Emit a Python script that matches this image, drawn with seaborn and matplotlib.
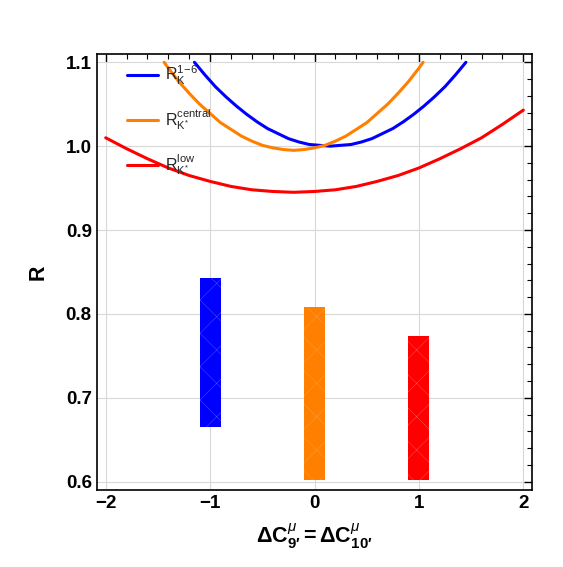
import matplotlib
matplotlib.use("Agg")
import matplotlib.pyplot as plt
from matplotlib.ticker import MultipleLocator
import pandas as pd
import seaborn as sns

# curves
x_blue = [-1.15, -1.05, -0.95, -0.85, -0.75, -0.65, -0.55, -0.45, -0.35, -0.25, -0.15,
          -0.05, 0.05, 0.15, 0.25, 0.35, 0.45, 0.55, 0.65, 0.75, 0.85, 0.95, 1.05,
          1.15, 1.25, 1.35, 1.45]
r_blue = [1.100, 1.085, 1.071, 1.059, 1.048, 1.038, 1.029, 1.021, 1.015, 1.009, 1.005,
          1.002, 1.001, 1.000, 1.001, 1.002, 1.005, 1.009, 1.015, 1.021, 1.029, 1.038,
          1.048, 1.059, 1.071, 1.085, 1.100]

x_orange = [-1.44, -1.4, -1.3, -1.2, -1.1, -1.0, -0.9, -0.8, -0.7, -0.6, -0.5, -0.4,
            -0.3, -0.2, -0.1, 0.0, 0.1, 0.2, 0.3, 0.4, 0.5, 0.6, 0.7, 0.8, 0.9, 1.0, 1.04]
r_orange = [1.100, 1.093, 1.077, 1.063, 1.050, 1.039, 1.028, 1.020, 1.012, 1.006, 1.001,
            0.998, 0.996, 0.995, 0.996, 0.998, 1.001, 1.006, 1.012, 1.020, 1.028, 1.039,
            1.050, 1.063, 1.077, 1.093, 1.100]

x_red = [-2.0, -1.8, -1.6, -1.4, -1.2, -1.0, -0.8, -0.6, -0.4, -0.2, 0.0, 0.2, 0.4,
         0.6, 0.8, 1.0, 1.2, 1.4, 1.6, 1.8, 2.0]
r_red = [1.010, 0.997, 0.985, 0.974, 0.965, 0.958, 0.952, 0.948, 0.946, 0.945, 0.946,
         0.948, 0.952, 0.958, 0.965, 0.974, 0.985, 0.997, 1.010, 1.026, 1.043]

# measured bands
band_x = [-1.0, 0.0, 1.0]
band_low = [0.665, 0.602, 0.602]
band_high = [0.843, 0.808, 0.774]

labels = [r"$\mathrm{R}_{\mathrm{K}}^{1\!-\!6}$",
          r"$\mathrm{R}_{\mathrm{K}^{*}}^{\mathrm{central}}$",
          r"$\mathrm{R}_{\mathrm{K}^{*}}^{\mathrm{low}}$"]
colors = ["#0000ff", "#ff8000", "#ff0000"]

sns.set_theme(style="whitegrid")
plt.rcParams['font.family'] = ['Liberation Sans', 'DejaVu Sans']
plt.rcParams['mathtext.fontset'] = 'custom'
plt.rcParams['mathtext.rm'] = 'Liberation Sans'
plt.rcParams['mathtext.it'] = 'Liberation Sans:italic'
plt.rcParams['mathtext.bf'] = 'Liberation Sans:bold'
plt.rcParams['hatch.linewidth'] = 0.3

fig = plt.figure(figsize=(5.63, 5.67), dpi=100)
ax = fig.add_axes([0.1718, 0.1358, 0.7737, 0.769])

curves = [(x_blue, r_blue), (x_orange, r_orange), (x_red, r_red)]
for (xs, rs), lab, col in zip(curves, labels, colors):
    df = pd.DataFrame({"x": xs, "R": rs})
    sns.lineplot(data=df, x="x", y="R", ax=ax, color=col, linewidth=2.2, label=lab)

hatch_cols = ["#5a5aff", "#ffa040", "#ff6060"]
for bx, lo, hi, col, hc in zip(band_x, band_low, band_high, colors, hatch_cols):
    ax.bar(bx, hi - lo, bottom=lo, width=0.2, color=col, edgecolor=hc,
           hatch="x", linewidth=0, zorder=3)

ax.set_xlim(-2.086, 2.086)
ax.set_ylim(0.5901, 1.1099)
ax.xaxis.set_major_locator(MultipleLocator(1))
ax.xaxis.set_minor_locator(MultipleLocator(0.2))
ax.yaxis.set_major_locator(MultipleLocator(0.1))
ax.yaxis.set_minor_locator(MultipleLocator(0.02))
ax.set_xticks([-2, -1, 0, 1, 2])
ax.set_xticklabels(["\u22122", "\u22121", "0", "1", "2"])
ax.grid(True, which="major", color="#d8d8d8", linewidth=0.8)
ax.grid(False, which="minor")
ax.set_axisbelow(True)

ax.tick_params(which="both", direction="in", top=True, right=True, color="black",
               labelsize=13.5, labelcolor="black")
ax.tick_params(which="major", length=6, width=1)
ax.tick_params(which="minor", length=3.5, width=0.8)
for t in ax.get_xticklabels() + ax.get_yticklabels():
    t.set_fontweight("bold")
for s in ax.spines.values():
    s.set_color("black")
    s.set_linewidth(1.2)

ax.set_xlabel(r"$\mathbf{\Delta C}^{\mu}_{\mathbf{9\prime}}\mathbf{=\Delta C}^{\mu}_{\mathbf{10\prime}}$",
              fontsize=15.5, labelpad=7, color="black")
ax.set_ylabel("R", fontsize=15.5, fontweight="bold", labelpad=12, color="black")

leg = ax.legend(loc="upper left", bbox_to_anchor=(0.037, 1.01), frameon=False,
                fontsize=11.5, handlelength=1.9, handletextpad=0.45, labelspacing=1.28)
for h in leg.legend_handles:
    h.set_linewidth(2.2)

fig.savefig("out.png", dpi=100)
